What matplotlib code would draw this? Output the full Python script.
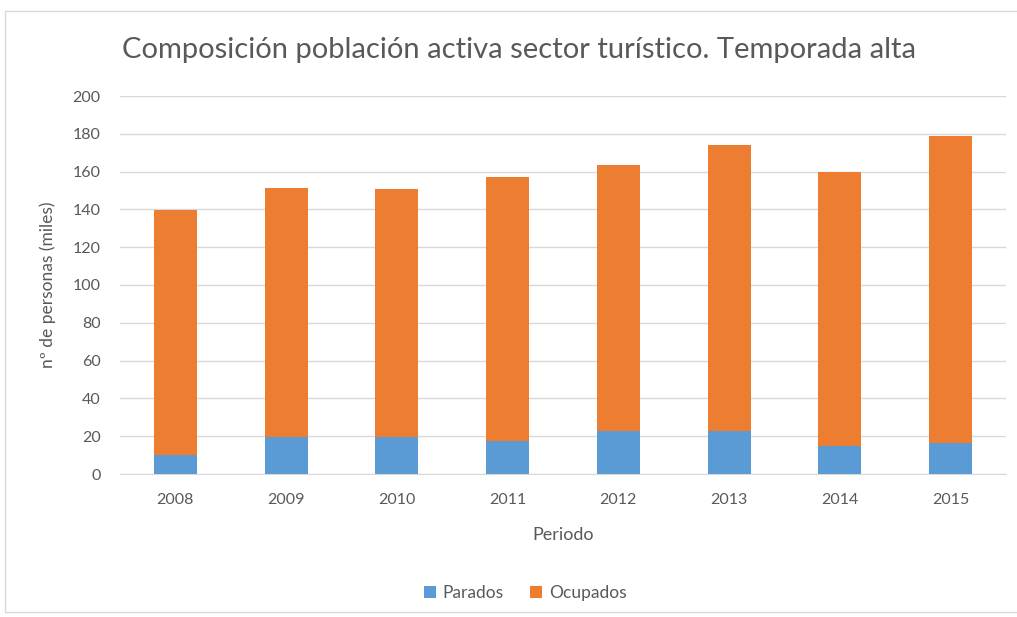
import matplotlib.pyplot as plt
import matplotlib.patches as mpatches

years = ['2008', '2009', '2010', '2011', '2012', '2013', '2014', '2015']
parados = [10.2, 19.4, 19.4, 17.5, 22.9, 22.9, 15.0, 16.6]
ocupados = [129.5, 132.1, 131.3, 139.5, 140.5, 151.3, 144.7, 162.0]

plt.rcParams['font.family'] = ['Lato', 'DejaVu Sans']
grey = '#595959'

fig = plt.figure(figsize=(10.17, 6.17), dpi=100)
ax = fig.add_axes([120 / 1017, 1 - 474 / 617, 886 / 1017, 378 / 617])

# chart frame
fig.patches.append(mpatches.Rectangle((5 / 1017, 5 / 617), 1.05, 1 - 16 / 617,
                                      transform=fig.transFigure, fill=False,
                                      ec='#d9d9d9', lw=1))

x = range(len(years))
ax.bar(x, parados, width=0.39, color='#5b9bd5', label='Parados', zorder=3)
ax.bar(x, ocupados, width=0.39, bottom=parados, color='#ed7d31',
       label='Ocupados', zorder=3)

ax.set_xlim(-0.5, len(years) - 0.5)
ax.set_ylim(0, 200)
ax.set_yticks(range(0, 201, 20))
ax.set_xticks(list(x))
ax.set_xticklabels(years)
ax.grid(axis='y', color='#d9d9d9', lw=1, zorder=0)
for s in ['top', 'right', 'left']:
    ax.spines[s].set_visible(False)
ax.spines['bottom'].set_color('#d9d9d9')
ax.tick_params(length=0, colors=grey, labelsize=11.5, pad=14)
ax.tick_params(axis='y', pad=14)

ax.set_xlabel('Periodo', color=grey, fontsize=13, labelpad=14)
ax.set_ylabel('nº de personas (miles)', color=grey, fontsize=12.5, labelpad=12)

fig.text(0.51, 1 - 50 / 617, 'Composición población activa sector turístico. Temporada alta',
         ha='center', va='center', fontsize=21, color=grey)

ax.legend(loc='center', bbox_to_anchor=(525 / 1017, 1 - 593 / 617),
          bbox_transform=fig.transFigure, ncol=2, frameon=False,
          fontsize=12.5, labelcolor=grey, handlelength=0.7, handleheight=0.7,
          handletextpad=0.4, columnspacing=1.5)

fig.savefig('out.png', dpi=100)
